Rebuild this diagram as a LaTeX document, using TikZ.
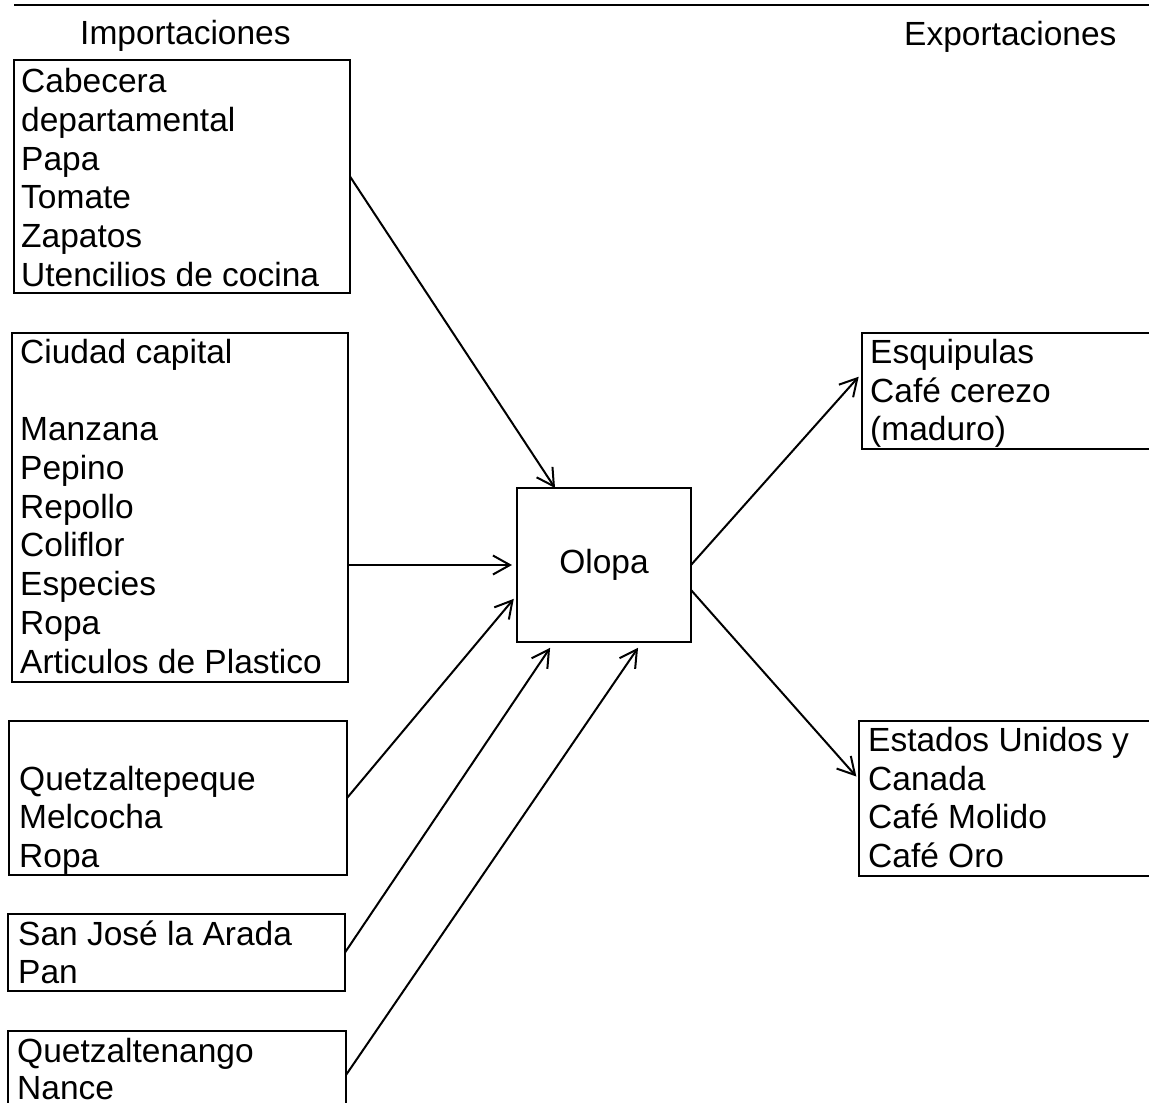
\documentclass[tikz,border=0pt]{standalone}
\usepackage{fontspec}
\setmainfont{Liberation Sans}
\usetikzlibrary{arrows.meta}
\begin{document}
\begin{tikzpicture}[x=1pt,y=-1pt,
  box/.style={draw, line width=2.3pt, anchor=north west, inner sep=0pt, outer sep=0pt},
  txt/.style={anchor=base west, inner sep=0pt, font=\fontsize{33.5}{39}\selectfont},
  conn/.style={line width=2pt, -{Straight Barb[length=17pt,width=19pt]}},
]
\useasboundingbox (0,0) rectangle (1149,1103);
% header
\coordinate (hl) at (14,5);
\coordinate (hr) at (1149,5);
\draw[line width=2.3pt] (hl) -- (hr);
\node[txt] (imp) at (80,44) {Importaciones};
\node[txt] (exp) at (904,45) {Exportaciones};
% boxes
\node[box, minimum width=336pt, minimum height=233pt] (b1) at (14,60) {};
\node[box, minimum width=336pt, minimum height=349pt] (b2) at (12,333) {};
\node[box, minimum width=338pt, minimum height=154pt] (b3) at (9,721) {};
\node[box, minimum width=337pt, minimum height=77pt] (b4) at (8,914) {};
\node[box, minimum width=338pt, minimum height=88pt] (b5) at (8,1031) {};
\node[box, minimum width=174pt, minimum height=154pt, font=\fontsize{33.5}{39}\selectfont] (ol) at (517,488) {Olopa};
\node[box, minimum width=300pt, minimum height=116pt] (e1) at (862,333) {};
\node[box, minimum width=300pt, minimum height=155pt] (e2) at (859,721) {};
% texts
\foreach \y/\t [count=\i] in {92/Cabecera, 131/departamental, 170/Papa, 208/Tomate, 247/Zapatos, 286/Utencilios de cocina}
  \node[txt] (b1t\i) at (21,\y) {\t};
\foreach \y/\t [count=\i] in {363/Ciudad capital, 440/Manzana, 479/Pepino, 518/Repollo, 556/Coliflor, 595/Especies, 634/Ropa, 673/Articulos de Plastico}
  \node[txt] (b2t\i) at (20,\y) {\t};
\foreach \y/\t [count=\i] in {790/Quetzaltepeque, 828/Melcocha, 867/Ropa}
  \node[txt] (b3t\i) at (19,\y) {\t};
\foreach \y/\t [count=\i] in {945/San José la Arada, 983/Pan}
  \node[txt] (b4t\i) at (18,\y) {\t};
\foreach \y/\t [count=\i] in {1062/Quetzaltenango, 1099/Nance}
  \node[txt] (b5t\i) at (17,\y) {\t};
\foreach \y/\t [count=\i] in {363/Esquipulas, 402/Café cerezo, 440/(maduro)}
  \node[txt] (e1t\i) at (870,\y) {\t};
\foreach \y/\t [count=\i] in {751/Estados Unidos y, 790/Canada, 828/Café Molido, 867/Café Oro}
  \node[txt] (e2t\i) at (868,\y) {\t};
% connectors
\draw[conn] (b1.east) -- ([xshift=-49pt]ol.north);
\draw[conn, shorten >=5pt] (b2.east |- ol.west) -- (ol.west);
\draw[conn, shorten >=5pt] (b3.east) -- ([yshift=-30pt]ol.west);
\draw[conn, shorten >=7pt] (b4.east) -- ([xshift=-50pt]ol.south);
\draw[conn, shorten >=7pt] (b5.east) -- ([xshift=38pt]ol.south);
\draw[conn, shorten >=5pt] (ol.east) -- ([yshift=18pt]e1.west);
\draw[conn, shorten >=4pt] ([yshift=-25pt]ol.east) -- ([yshift=19pt]e2.west);
\end{tikzpicture}
\end{document}
